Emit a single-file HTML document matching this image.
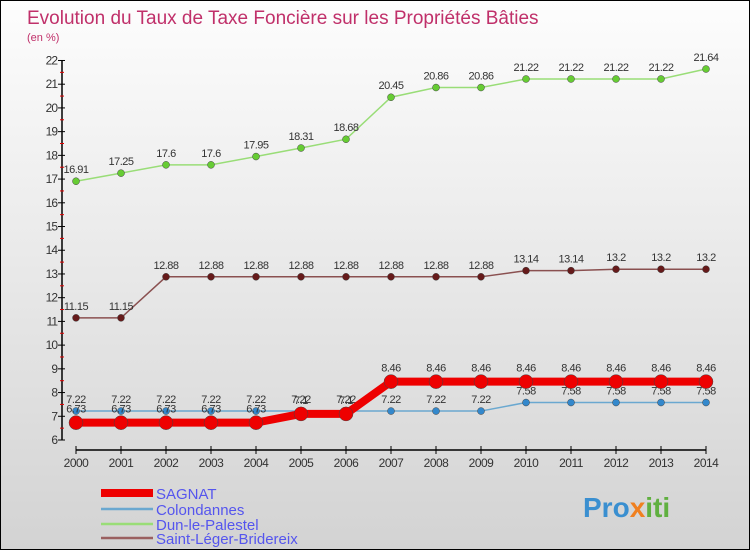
<!DOCTYPE html>
<html><head><meta charset="utf-8"><style>
body{margin:0;width:750px;height:550px;overflow:hidden;font-family:"Liberation Sans",sans-serif}
#wrap{position:relative;width:748px;height:548px;border:1px solid #000;background:linear-gradient(#fdfdfd,#d3d3d3)}
</style></head><body>
<div id="wrap">
<svg width="748" height="548" id="svg" font-family="Liberation Sans, sans-serif">
<text x="26" y="23" font-size="19" fill="#c0306a">Evolution du Taux de Taxe Foncière sur les Propriétés Bâties</text>
<text x="26" y="40" font-size="11" fill="#c0306a">(en %)</text>
<g id="axes"></g><g id="series"></g><g id="legend"></g>
<text x="582" y="516" font-size="28" font-weight="bold"><tspan fill="#3a8fd0">Pro</tspan><tspan fill="#f08020">x</tspan><tspan fill="#60b040">iti</tspan></text>
</svg></div>
<script>
const years=[2000,2001,2002,2003,2004,2005,2006,2007,2008,2009,2010,2011,2012,2013,2014];
const yTicks=[6,7,8,9,10,11,12,13,14,15,16,17,18,19,20,21,22];
const sagnat=[6.73,6.73,6.73,6.73,6.73,7.1,7.1,8.46,8.46,8.46,8.46,8.46,8.46,8.46,8.46];
const colondannes=[7.22,7.22,7.22,7.22,7.22,7.22,7.22,7.22,7.22,7.22,7.58,7.58,7.58,7.58,7.58];
const dun=[16.91,17.25,17.6,17.6,17.95,18.31,18.68,20.45,20.86,20.86,21.22,21.22,21.22,21.22,21.64];
const saint=[11.15,11.15,12.88,12.88,12.88,12.88,12.88,12.88,12.88,12.88,13.14,13.14,13.2,13.2,13.2];
const names=["SAGNAT","Colondannes","Dun-le-Palestel","Saint-Léger-Bridereix"];
const NS="http://www.w3.org/2000/svg";
const X=i=>75+i*45, Y=v=>439-(v-6)*23.72;
function mk(t,a,p){const e=document.createElementNS(NS,t);for(const k in a)e.setAttribute(k,a[k]);p.appendChild(e);return e;}
const ax=document.getElementById('axes');
const yl=mk('line',{x1:61,y1:Y(22),x2:61,y2:Y(6),stroke:'#000','stroke-width':1.5},ax);


yTicks.forEach(v=>{
 mk('line',{x1:57,y1:Y(v),x2:64,y2:Y(v),stroke:'#000'},ax);
 if(v<22)mk('line',{x1:59,y1:Y(v+0.5),x2:63,y2:Y(v+0.5),stroke:'#e00000'},ax);
 const t=mk('text',{x:56,y:Y(v)+4,'font-size':12,'text-anchor':'end',fill:'#333','letter-spacing':'-1'},ax);t.textContent=v;
 
 
});
const xl=mk('line',{x1:75,y1:449,x2:705,y2:449,stroke:'#000','stroke-width':1.5},ax);


years.forEach((y,i)=>{
 mk('line',{x1:X(i),y1:445,x2:X(i),y2:453,stroke:'#000'},ax);
 const t=mk('text',{x:X(i),y:466,'font-size':12,'text-anchor':'middle',fill:'#333','letter-spacing':'-0.5'},ax);t.textContent=y;
 
 
});
const sg=document.getElementById('series');
function series(vals,color,dot,lw,r,name,lblOff){
 const g=mk('g',{},sg);
 
 
 mk('polyline',{points:vals.map((v,i)=>X(i)+','+Y(v)).join(' '),fill:'none',stroke:color,'stroke-width':lw},g);
 vals.forEach((v,i)=>{
  const c=mk('circle',{cx:X(i),cy:Y(v),r:r,fill:dot,stroke:'#444','stroke-width':0.5},g);
  
  
  const t=mk('text',{x:X(i),y:Y(v)-lblOff,'font-size':11,'text-anchor':'middle',fill:'#333','letter-spacing':'-0.5'},g);t.textContent=v;
  
  
 });
}
series(dun,'#99dd77','#66cc33',1.5,3.5,'series-dun-le-palestel',8);
series(saint,'#8a5050','#661a1a',1.5,3.5,'series-saint-leger-bridereix',8);
series(colondannes,'#6aa8d0','#3388cc',1.5,3.5,'series-colondannes',8);
series(sagnat,'#ee0000','#ee0000',8,7,'series-sagnat',10);
const lg=document.getElementById('legend');
const cols=['#ee0000','#6aa8d0','#99dd77','#9a6060'],ws=[8,2.5,2.5,2.5],ly=[492,508,523,537];
names.forEach((n,i)=>{
 const g=mk('g',{},lg);
 
 
 mk('line',{x1:100,y1:ly[i],x2:152,y2:ly[i],stroke:cols[i],'stroke-width':ws[i]},g);
 const t=mk('text',{x:155,y:ly[i]+6,'font-size':15,fill:'#5555ee'},g);t.textContent=n;
});
</script>
</body></html>
